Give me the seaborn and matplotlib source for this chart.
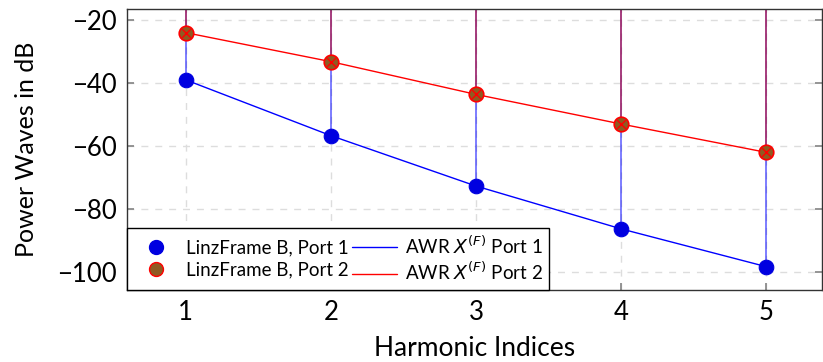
import matplotlib
matplotlib.use("Agg")
import matplotlib.pyplot as plt
import seaborn as sns
import pandas as pd
from matplotlib.lines import Line2D

harmonics = [1, 2, 3, 4, 5]
linz_port1 = [-39.0, -56.7, -72.7, -86.3, -98.3]
linz_port2 = [-24.0, -33.2, -43.6, -53.0, -62.0]
awr_port1 = [-39.0, -56.7, -72.7, -86.3, -98.3]
awr_port2 = [-24.0, -33.2, -43.6, -53.0, -62.0]
yticks = [-20, -40, -60, -80, -100]

sns.set_theme(style="white")
plt.rcParams['font.family'] = ['Lato', 'DejaVu Sans']
plt.rcParams['mathtext.fontset'] = 'dejavusans'
plt.rcParams['text.color'] = 'black'
plt.rcParams['axes.labelcolor'] = 'black'

fig = plt.figure(figsize=(8.23, 3.62), dpi=100)
ax = fig.add_axes([0.154, 0.199, 0.845, 0.776])

df = pd.DataFrame({"h": harmonics, "l1": linz_port1, "l2": linz_port2,
                   "a1": awr_port1, "a2": awr_port2})

# stems from 0 dB
ax.vlines(df["h"], df["l1"], 0, colors="blue", alpha=0.55, lw=1.3, zorder=2)
ax.vlines(df["h"], df["l2"], 0, colors="#d00000", alpha=0.55, lw=1.3, zorder=2)

sns.lineplot(data=df, x="h", y="a1", ax=ax, color="blue", lw=1.0, zorder=3)
sns.lineplot(data=df, x="h", y="a2", ax=ax, color="red", lw=1.0, zorder=3)

sns.scatterplot(data=df, x="h", y="l1", ax=ax, color="#0000e0", s=110,
                edgecolor="#0000e0", linewidth=0.8, zorder=4)
sns.scatterplot(data=df, x="h", y="l2", ax=ax, color="#8f5a22", s=110,
                edgecolor="red", linewidth=1.2, zorder=4)
sns.scatterplot(data=df, x="h", y="l2", ax=ax, color="red", s=40,
                marker="x", linewidth=1.0, zorder=5)

ax.set_xlim(0.593, 5.386)
ax.set_ylim(-105.7, -16.5)
ax.set_xticks(harmonics)
ax.set_yticks(yticks)
ax.set_xticklabels([str(h) for h in harmonics])
ax.set_yticklabels(["\u2212" + str(-t) for t in yticks])
ax.grid(True, linestyle=(0, (5, 5)), color="#dddddd", lw=1.0)
ax.tick_params(axis="both", direction="in", length=5, color="#888888",
               labelsize=18.5, labelcolor="black", pad=7,
               right=True, left=True, bottom=True)
for s in ax.spines.values():
    s.set_color("#333333")
    s.set_linewidth(1.0)
ax.set_xlabel("Harmonic Indices", fontsize=19, labelpad=8)
ax.set_ylabel("Power Waves in dB", fontsize=18, labelpad=14)

handles = [
    Line2D([], [], ls="none", marker="o", markersize=10, color="#0000e0"),
    Line2D([], [], ls="none", marker="o", markersize=10, markerfacecolor="#8f5a22",
           markeredgecolor="red"),
    Line2D([], [], color="blue", lw=1.0),
    Line2D([], [], color="red", lw=1.0),
]
labels = ["LinzFrame B, Port 1", "LinzFrame B, Port 2",
          r"AWR $X^{(F)}$ Port 1", r"AWR $X^{(F)}$ Port 2"]
leg = ax.legend(handles, labels, loc="lower left", ncol=2, fontsize=13.5,
                frameon=True, fancybox=False, framealpha=1, edgecolor="black",
                borderaxespad=0, columnspacing=0.2, handletextpad=0.4,
                handlelength=2.4, labelspacing=0.25, borderpad=0.35)
leg.get_frame().set_linewidth(1.0)

fig.savefig("out.png", dpi=100)
